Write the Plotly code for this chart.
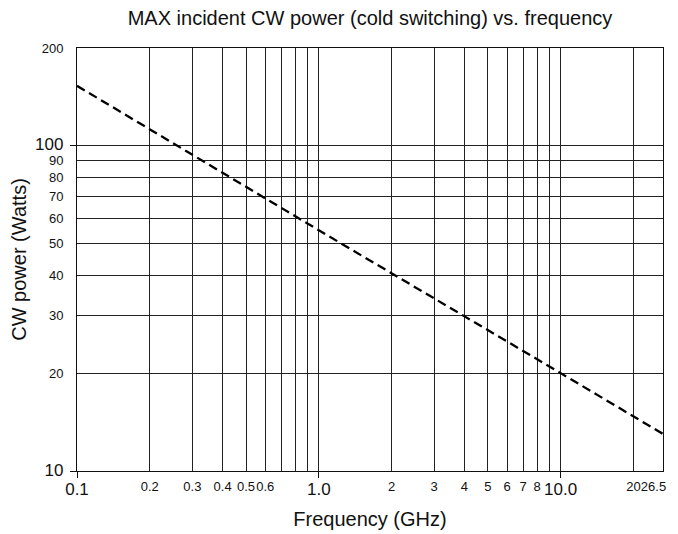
import plotly.graph_objects as go

# Data (log-log straight line)
freq_ghz = [0.1, 1.0, 10.0, 26.5]
power_w = [153, 55, 20, 13]

x_tick_vals = [0.1, 0.2, 0.3, 0.4, 0.5, 0.6, 0.7, 0.8, 0.9, 1.0, 2, 3, 4, 5, 6, 7, 8, 9, 10, 20, 26.5]
x_tick_text = ["0.1", "0.2", "0.3", "0.4", "0.5", "0.6", "", "", "", "1.0", "2", "3", "4", "5", "6", "7", "8", "", "10.0", "20", ""]
x_major = [0.1, 1.0, 10.0]
# end label is drawn slightly left of its grid line in the reference
end_label_pos = [24.2]
end_label_text = ["26.5"]

y_tick_vals = [10, 20, 30, 40, 50, 60, 70, 80, 90, 100, 200]
y_tick_text = ["10", "20", "30", "40", "50", "60", "70", "80", "90", "100", "200"]
y_major = [10, 100]

BIG = 17
SMALL = 13


def styled(vals, texts, majors, small_style=""):
    out = []
    for v, t in zip(vals, texts):
        if v in majors:
            out.append(f'<span style="font-size:{BIG}px">{t}</span>')
        elif t and small_style:
            out.append(f'<span style="{small_style}">{t}</span>')
        else:
            out.append(t)
    return out


x_text = styled(x_tick_vals, x_tick_text, x_major, small_style="baseline-shift:4px")

fig = go.Figure()
fig.add_trace(go.Scatter(
    x=freq_ghz, y=power_w, mode="lines",
    line=dict(color="black", width=2.3, dash="9px,5px"),
    showlegend=False, hoverinfo="skip",
))
# invisible copy on the overlay axis so that axis (carrying the end label) is drawn
fig.add_trace(go.Scatter(
    x=freq_ghz, y=power_w, mode="lines", xaxis="x2", yaxis="y",
    line=dict(color="rgba(0,0,0,0)", width=0),
    showlegend=False, hoverinfo="skip",
))

font_family = "Liberation Sans, Arial, sans-serif"
x_range = [-1, 1.42325]

# the page body adds an 8px offset, so the figure is 8px smaller on each side
fig.update_layout(
    width=670, height=526,
    margin=dict(l=69, r=15, t=40, b=63, autoexpand=False),
    paper_bgcolor="white", plot_bgcolor="white",
    font=dict(family=font_family, color="#111", size=SMALL),
    title=dict(text="MAX incident CW power (cold switching) vs. frequency",
               x=0.5403, xanchor="center", y=0.981, yanchor="middle",
               font=dict(size=20, color="#111")),
    xaxis2=dict(
        type="log", range=x_range, overlaying="x", side="bottom", anchor="y",
        automargin=False, tickmode="array", tickvals=end_label_pos,
        ticktext=[f'<span style="baseline-shift:4px">{t}</span>' for t in end_label_text],
        ticks="", showgrid=False, showline=False, zeroline=False,
        tickfont=dict(size=SMALL, color="#111"),
        ticklabelstandoff=10, ticklabeloverflow="allow",
    ),
)

fig.layout.xaxis.update(
    type="log", range=x_range, automargin=False,
    tickmode="array", tickvals=x_tick_vals, ticktext=x_text,
    ticks="", showgrid=True, gridcolor="#222", gridwidth=1,
    showline=True, linecolor="#111", linewidth=1, mirror=True,
    tickangle=0, tickfont=dict(size=SMALL, color="#111"),
    ticklabelstandoff=7, ticklabeloverflow="allow",
    minor=dict(tickvals=x_major, ticks="outside", ticklen=6, tickcolor="#111", tickwidth=1, showgrid=False),
    title=dict(text="Frequency (GHz)", font=dict(size=20, color="#111"), standoff=14),
    zeroline=False,
)

fig.update_yaxes(
    type="log", range=[1, 2.30103], automargin=False,
    tickmode="array", tickvals=y_tick_vals,
    ticktext=styled(y_tick_vals, y_tick_text, y_major),
    ticks="", showgrid=True, gridcolor="#222", gridwidth=1,
    showline=True, linecolor="#111", linewidth=1, mirror=True,
    tickfont=dict(size=SMALL, color="#111"),
    ticklabelstandoff=10, ticklabeloverflow="allow",
    minor=dict(tickvals=y_major, ticks="outside", ticklen=6, tickcolor="#111", tickwidth=1, showgrid=False),
    title=dict(text="CW power (Watts)", font=dict(size=20, color="#111"), standoff=8),
    zeroline=False,
)

fig.write_html("out.html")
